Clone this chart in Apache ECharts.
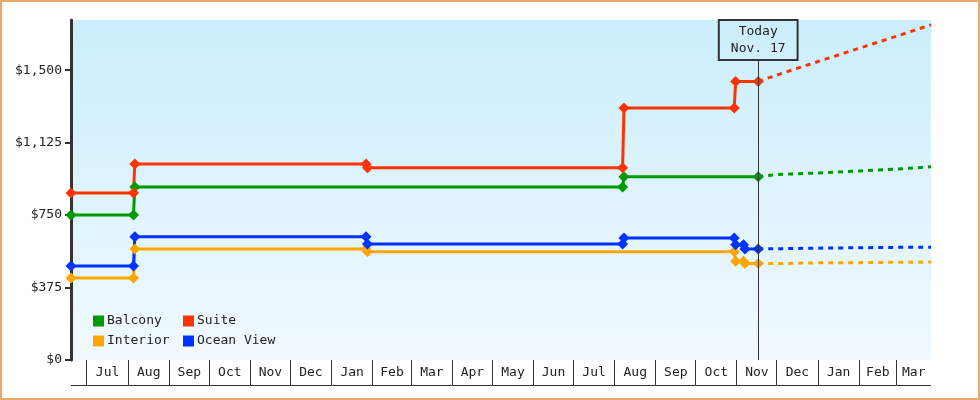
<!DOCTYPE html>
<html><head><meta charset="utf-8">
<script src="https://cdn.jsdelivr.net/npm/echarts@6/dist/echarts.min.js"></script>
<style>html,body{margin:0;padding:0;background:#fff}#c{width:980px;height:400px}</style>
</head><body><div id="c"></div>
<script>
// ---- data ----
const axisStart = '2023-06-19';
const axisEnd = '2025-03-27';
const todayDate = '2024-11-17';
const todayLabel = 'Today\nNov. 17';
const monthStarts = ['2023-07-01','2023-08-01','2023-09-01','2023-10-01','2023-11-01','2023-12-01',
  '2024-01-01','2024-02-01','2024-03-01','2024-04-01','2024-05-01','2024-06-01','2024-07-01',
  '2024-08-01','2024-09-01','2024-10-01','2024-11-01','2024-12-01','2025-01-01','2025-02-01','2025-03-01'];
const monthLabels = ['Jul','Aug','Sep','Oct','Nov','Dec','Jan','Feb','Mar','Apr','May','Jun','Jul',
  'Aug','Sep','Oct','Nov','Dec','Jan','Feb','Mar'];
const yTicks = [0, 375, 750, 1125, 1500];
const yMax = 1760;

const balconyDates = ['2023-06-19','2023-08-05','2023-08-06','2024-08-07','2024-08-08','2024-11-17'];
const balconyPrices = [750, 750, 895, 895, 949, 949];
const suiteDates = ['2023-06-19','2023-08-05','2023-08-06','2024-01-27','2024-01-28','2024-08-07','2024-08-08','2024-10-30','2024-10-31','2024-11-17'];
const suitePrices = [865, 865, 1015, 1015, 995, 995, 1305, 1305, 1442, 1442];
const interiorDates = ['2023-06-19','2023-08-05','2023-08-06','2024-01-27','2024-01-28','2024-10-30','2024-10-31','2024-11-06','2024-11-07','2024-11-17'];
const interiorPrices = [425, 425, 575, 575, 560, 560, 511, 511, 499, 499];
const oceanDates = ['2023-06-19','2023-08-05','2023-08-06','2024-01-27','2024-01-28','2024-08-07','2024-08-08','2024-10-30','2024-10-31','2024-11-06','2024-11-07','2024-11-17'];
const oceanPrices = [487, 487, 638, 638, 601, 601, 632, 632, 596, 596, 575, 575];

const projDates = ['2024-11-17','2024-12-01','2025-01-01','2025-02-01','2025-03-01','2025-03-27'];
const balconyProj = [949, 960, 968, 978, 988, 1000];
const suiteProj = [1442, 1475, 1545, 1614, 1676, 1735];
const interiorProj = [499, 499, 503, 504, 506, 507];
const oceanProj = [575, 576, 579, 581, 583, 584];

// ---- chart ----
const FONT = '"DejaVu Sans Mono", monospace';
const ts = s => new Date(s + 'T00:00:00').getTime();
const pairs = (d, v) => d.map((x, i) => [ts(x), v[i]]);

const cellBounds = [axisStart].concat(monthStarts).concat([axisEnd]);
const cellData = [];
for (let i = 0; i < cellBounds.length - 1; i++) cellData.push([ts(cellBounds[i]), ts(cellBounds[i + 1]), 0]);

function crisp(v) { return Math.round(v - 0.5) + 0.5; }
function renderCell(params, api) {
  const s = api.coord([api.value(0), 0]);
  const e = api.coord([api.value(1), 0]);
  const y0 = Math.round(s[1]);
  const i = params.dataIndex;
  const ch = [{type: 'line', shape: {x1: s[0], y1: y0 + 25.5, x2: e[0], y2: y0 + 25.5}, style: {stroke: '#333', lineWidth: 1}}];
  if (i > 0) {
    const x = crisp(s[0]);
    ch.push({type: 'line', shape: {x1: x, y1: y0, x2: x, y2: y0 + 25}, style: {stroke: '#333', lineWidth: 1}});
    ch.push({type: 'text', style: {text: monthLabels[i - 1], x: (s[0] + e[0]) / 2, y: y0 + 13,
      align: 'center', verticalAlign: 'middle', fontFamily: FONT, fontSize: 13, fill: '#222'}});
  }
  return {type: 'group', children: ch};
}

function mk(name, color, d, v, p, extra) {
  return [
    Object.assign({type: 'line', name, data: pairs(d, v), symbol: 'diamond', symbolSize: 11,
      lineStyle: {width: 3, color}, itemStyle: {color}, silent: true, z: 3}, extra || {}),
    {type: 'line', name, data: pairs(projDates, p), symbol: 'none',
      lineStyle: {width: 3, color, type: [5, 5]}, itemStyle: {color}, silent: true, z: 2}
  ];
}

const todayMark = {
  silent: true, symbol: 'none', animation: false,
  lineStyle: {color: '#333', width: 1, type: 'solid'},
  label: {show: true, position: 'end', distance: 0, formatter: todayLabel, color: '#222',
    fontFamily: FONT, fontSize: 13, lineHeight: 17, padding: [3, 12, 3, 12],
    borderColor: '#333', borderWidth: 1, backgroundColor: 'transparent', align: 'center'},
  data: [[{coord: [ts(todayDate), 0]}, {coord: [ts(todayDate), 1553]}]]
};

const colors = {Balcony: '#009900', Suite: '#ff3300', Interior: '#ffa500', 'Ocean View': '#0033ff'};

const series = [].concat(
  mk('Interior', colors.Interior, interiorDates, interiorPrices, interiorProj),
  mk('Balcony', colors.Balcony, balconyDates, balconyPrices, balconyProj),
  mk('Ocean View', colors['Ocean View'], oceanDates, oceanPrices, oceanProj),
  mk('Suite', colors.Suite, suiteDates, suitePrices, suiteProj, {markLine: todayMark}),
  [{type: 'custom', name: 'months', data: cellData, renderItem: renderCell, clip: false, silent: true,
    encode: {x: [0, 1], y: 2}, z: 1}]
);

const legendBase = {orient: 'vertical', icon: 'rect', itemWidth: 11, itemHeight: 11, itemGap: 6,
  padding: 0, top: 314, selectedMode: false,
  textStyle: {fontFamily: FONT, fontSize: 13, color: '#222', lineHeight: 14, padding: [0, 0, 0, -2]}};

const chart = echarts.init(document.getElementById('c'), null, {renderer: 'canvas'});
chart.setOption({
  animation: false,
  backgroundColor: '#ffffff',
  grid: {left: 71, top: 20, right: 49, bottom: 40, show: true, borderWidth: 0,
    backgroundColor: new echarts.graphic.LinearGradient(0, 0, 0, 1, [
      {offset: 0, color: '#cbeefc'}, {offset: 1, color: '#f1f9ff'}])},
  xAxis: {type: 'time', min: ts(axisStart), max: ts(axisEnd),
    axisLine: {show: false}, axisTick: {show: false}, axisLabel: {show: false}, splitLine: {show: false}},
  yAxis: {type: 'value', min: 0, max: yMax,
    axisLine: {show: true, lineStyle: {color: '#333', width: 3}},
    axisTick: {show: true, length: 6, lineStyle: {color: '#333', width: 2}, customValues: yTicks},
    axisLabel: {customValues: yTicks, margin: 9, fontFamily: FONT, fontSize: 13, color: '#222',
      formatter: v => '$' + Number(v).toLocaleString('en-US')},
    splitLine: {show: false}},
  legend: [
    Object.assign({}, legendBase, {left: 93, data: ['Balcony', 'Interior']}),
    Object.assign({}, legendBase, {left: 183, data: ['Suite', 'Ocean View']})
  ],
  graphic: [{type: 'rect', shape: {x: 1, y: 1, width: 978, height: 398},
    style: {fill: 'none', stroke: '#e9ab6b', lineWidth: 2}, silent: true, z: 100}],
  series
});
</script></body></html>
